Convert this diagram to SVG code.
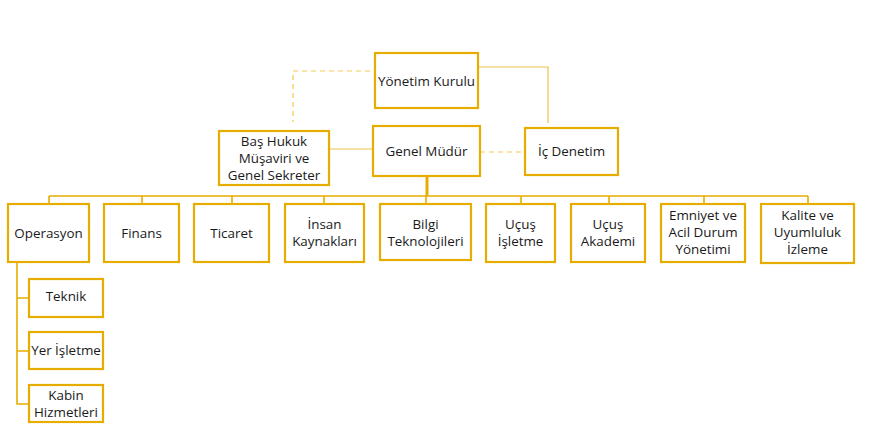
<svg xmlns="http://www.w3.org/2000/svg" width="881" height="435" viewBox="0 0 881 435">
<style>
.box{fill:#fff;stroke:#E6AD00;stroke-width:2.2}
.t{font-family:"Open Sans","Liberation Sans",sans-serif;font-size:13.4px;fill:#1a1a1a;text-anchor:middle}
.solid{fill:none;stroke:#E6AD00;stroke-width:1.6}
.thin{fill:none;stroke:#F0C24A;stroke-width:1.2}
.dash{fill:none;stroke:#F5C94F;stroke-width:1.2;stroke-dasharray:5,4}
</style>
<rect width="881" height="435" fill="#fff"/>
<g id="connectors">
<path class="dash" d="M370,71 H293 V122"/>
<path class="thin" d="M473,67 H548 V123"/>
<path class="thin" d="M329,149 H373"/>
<path class="dash" d="M480,152 H525"/>
<path d="M427,177 V196" fill="none" stroke="#E6AD00" stroke-width="3"/>
<path class="solid" d="M49,196 H808" stroke-width="2"/>
<path class="solid" d="M49,196 V204 M142,196 V204 M232,196 V204 M324,196 V204 M426,196 V204 M521,196 V204 M609,196 V204 M704,196 V204 M808,196 V204"/>
<path class="solid" d="M17,262 V404 H29 M17,298 H29 M17,351 H29" stroke-width="2"/>
</g>
<g id="yonetim"><rect class="box" x="375" y="53" width="103" height="55"/><text class="t" x="426.5" y="85.5">Yönetim Kurulu</text></g>
<g id="bashukuk"><rect class="box" x="219" y="131" width="110" height="54"/><text class="t" x="274" y="145.5">Baş Hukuk</text><text class="t" x="274" y="162.5">Müşaviri ve</text><text class="t" x="274" y="179.5">Genel Sekreter</text></g>
<g id="genelmudur"><rect class="box" x="373" y="126" width="107" height="50"/><text class="t" x="426.5" y="155.5">Genel Müdür</text></g>
<g id="icdenetim"><rect class="box" x="525" y="128" width="93" height="47"/><text class="t" x="571.5" y="155.5">İç Denetim</text></g>
<g id="operasyon"><rect class="box" x="8" y="204" width="81" height="58"/><text class="t" x="48.5" y="237.5">Operasyon</text></g>
<g id="finans"><rect class="box" x="104" y="204" width="75" height="58"/><text class="t" x="141.5" y="237.5">Finans</text></g>
<g id="ticaret"><rect class="box" x="194" y="204" width="75" height="58"/><text class="t" x="231.5" y="237.5">Ticaret</text></g>
<g id="insan"><rect class="box" x="285" y="204" width="79" height="58"/><text class="t" x="324.5" y="228.5">İnsan</text><text class="t" x="324.5" y="246">Kaynakları</text></g>
<g id="bilgi"><rect class="box" x="380" y="204" width="91" height="56"/><text class="t" x="425.5" y="228.5">Bilgi</text><text class="t" x="425.5" y="246">Teknolojileri</text></g>
<g id="ucusisletme"><rect class="box" x="486" y="204" width="69" height="58"/><text class="t" x="520.5" y="228.5">Uçuş</text><text class="t" x="520.5" y="246">İşletme</text></g>
<g id="ucusakademi"><rect class="box" x="571" y="204" width="74" height="58"/><text class="t" x="608" y="228.5">Uçuş</text><text class="t" x="608" y="246">Akademi</text></g>
<g id="emniyet"><rect class="box" x="661" y="204" width="84" height="58"/><text class="t" x="703" y="220">Emniyet ve</text><text class="t" x="703" y="236.5">Acil Durum</text><text class="t" x="703" y="253.5">Yönetimi</text></g>
<g id="kalite"><rect class="box" x="761" y="204" width="93" height="59"/><text class="t" x="807.5" y="220">Kalite ve</text><text class="t" x="807.5" y="236.5">Uyumluluk</text><text class="t" x="807.5" y="253.5">İzleme</text></g>
<g id="teknik"><rect class="box" x="29" y="279" width="74" height="38"/><text class="t" x="66" y="301">Teknik</text></g>
<g id="yerisletme"><rect class="box" x="29" y="332" width="74" height="37"/><text class="t" x="66" y="354.5">Yer İşletme</text></g>
<g id="kabin"><rect class="box" x="29" y="385" width="74" height="37"/><text class="t" x="66" y="400">Kabin</text><text class="t" x="66" y="416.5">Hizmetleri</text></g>
</svg>
